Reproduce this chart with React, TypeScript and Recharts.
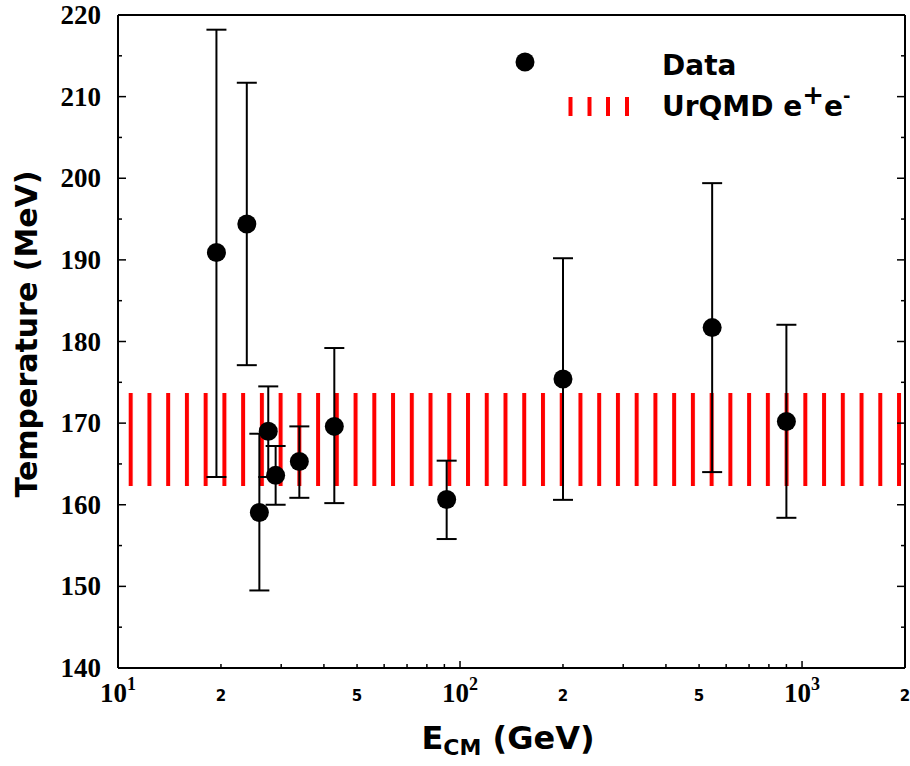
import React from 'react';
import { ScatterChart, Scatter, XAxis, YAxis, ErrorBar, ReferenceArea, Legend } from 'recharts';

// collision energy (GeV) and extracted temperature (MeV) with error bounds
const energies = [19.4, 23.8, 25.9, 27.5, 28.9, 33.9, 42.9, 91.4, 200, 546, 900];
const temperatures = [190.9, 194.4, 159.05, 169.0, 163.6, 165.3, 169.6, 160.65, 175.4, 181.7, 170.2];
const upperBounds = [218.2, 211.7, 168.7, 174.5, 167.2, 169.6, 179.2, 165.4, 190.2, 199.4, 182.05];
const lowerBounds = [163.4, 177.1, 149.5, 163.4, 160.0, 160.85, 160.2, 155.8, 160.6, 164.0, 158.4];

// UrQMD e+e- band
const urqmdLow = 162.3;
const urqmdHigh = 173.7;

const xTicks = [10, 20, 30, 40, 50, 60, 70, 80, 90, 100, 200, 300, 400, 500, 600, 700, 800, 900, 1000, 2000];
const xMajor = [10, 100, 1000];
const xLabels: Record<number, [string, string]> = {
  10: ['10', '1'],
  20: ['2', ''],
  50: ['5', ''],
  100: ['10', '2'],
  200: ['2', ''],
  500: ['5', ''],
  1000: ['10', '3'],
  2000: ['2', ''],
};
const yTicks = [140, 145, 150, 155, 160, 165, 170, 175, 180, 185, 190, 195, 200, 205, 210, 215, 220];
const yLabeled = [140, 150, 160, 170, 180, 190, 200, 210, 220];

const data = energies.map((e, i) => ({
  energy: e,
  temp: temperatures[i],
  err: [temperatures[i] - lowerBounds[i], upperBounds[i] - temperatures[i]],
}));

const SANS = '"DejaVu Sans", sans-serif';
const SERIF = '"Liberation Serif", serif';

const BottomTick = (props: any) => {
  const { x, y, payload } = props;
  const v = payload.value;
  const len = xMajor.includes(v) ? 7 : 4;
  const lab = xLabels[v];
  return (
    <g>
      <line x1={x} x2={x} y1={y} y2={y - len} stroke="#000" strokeWidth={1.5} />
      {lab && lab[1] !== '' && (
        <text x={x} y={y + 34} textAnchor="middle" fontFamily={SERIF} fontWeight="bold" fontSize={27} fill="#000">
          {lab[0]}
          <tspan fontSize={18} dy={-12}>{lab[1]}</tspan>
        </text>
      )}
      {lab && lab[1] === '' && (
        <text x={x} y={y + 33} textAnchor="middle" fontFamily={SANS} fontWeight="bold" fontSize={15} fill="#000">
          {lab[0]}
        </text>
      )}
    </g>
  );
};

const TopTick = (props: any) => {
  const { x, y, payload } = props;
  const len = xMajor.includes(payload.value) ? 7 : 4;
  return <line x1={x} x2={x} y1={y} y2={y + len} stroke="#000" strokeWidth={1.5} />;
};

const LeftTick = (props: any) => {
  const { x, y, payload } = props;
  const v = payload.value;
  const major = yLabeled.includes(v);
  return (
    <g>
      <line x1={x} x2={x + (major ? 8 : 4)} y1={y} y2={y} stroke="#000" strokeWidth={1.5} />
      {major && (
        <text x={x - 17} y={y + 9} textAnchor="end" fontFamily={SERIF} fontWeight="bold" fontSize={27} fill="#000">
          {v}
        </text>
      )}
    </g>
  );
};

const RightTick = (props: any) => {
  const { x, y, payload } = props;
  const len = yLabeled.includes(payload.value) ? 8 : 4;
  return <line x1={x} x2={x - len} y1={y} y2={y} stroke="#000" strokeWidth={1.5} />;
};

const YTitle = () => (
  <text
    x={37}
    y={334}
    transform="rotate(-90, 37, 334)"
    textAnchor="middle"
    fontFamily={SANS}
    fontWeight="bold"
    fontSize={30}
    fill="#000"
  >
    Temperature (MeV)
  </text>
);

const XTitle = () => (
  <text x={508} y={749} textAnchor="middle" fontFamily={SANS} fontWeight="bold" fontSize={32} fill="#000">
    E
    <tspan fontSize={22} dy={6}>CM</tspan>
    <tspan dy={-6}> (GeV)</tspan>
  </text>
);

const LegendBox = () => (
  <svg width={910} height={140} style={{ display: 'block' }}>
    <circle cx={525} cy={62} r={9.5} fill="#000" />
    <text x={662} y={75} fontFamily={SANS} fontWeight="bold" fontSize={28} fill="#000">
      Data
    </text>
    {[570.5, 589.5, 608, 627].map((lx) => (
      <line key={lx} x1={lx} x2={lx} y1={97} y2={116} stroke="#ff0000" strokeWidth={4} />
    ))}
    <text x={662} y={116} fontFamily={SANS} fontWeight="bold" fontSize={28} fill="#000">
      UrQMD e
      <tspan dy={-12} fontSize={26}>+</tspan>
      <tspan dy={12}>e</tspan>
      <tspan dy={-14} fontSize={18}>-</tspan>
    </text>
  </svg>
);

const Dot = (props: any) => <circle cx={props.cx} cy={props.cy} r={9.5} fill="#000" />;

export default function App() {
  return (
    <div style={{ position: 'absolute', left: 0, top: 0, background: '#fff', fontFamily: SANS }}>
      <ScatterChart width={910} height={766} margin={{ top: 0, right: 0, bottom: 0, left: 0 }}>
        <defs>
          <pattern id="urqmdStripes" patternUnits="userSpaceOnUse" x={16.26} y={0} width={18.74} height={766}>
            <rect x={0} y={0} width={4} height={766} fill="#ff0000" />
          </pattern>
        </defs>
        <XAxis
          dataKey="energy"
          type="number"
          scale="log"
          domain={[10, 2000]}
          allowDataOverflow
          ticks={xTicks}
          interval={0}
          tickSize={0}
          tickMargin={0}
          height={98}
          axisLine={{ stroke: '#000', strokeWidth: 2 }}
          tickLine={false}
          tick={<BottomTick />}
          label={<XTitle />}
        />
        <XAxis
          xAxisId="top"
          orientation="top"
          type="number"
          scale="log"
          domain={[10, 2000]}
          allowDataOverflow
          ticks={xTicks}
          interval={0}
          tickSize={0}
          tickMargin={0}
          height={15}
          axisLine={{ stroke: '#000', strokeWidth: 2 }}
          tickLine={false}
          tick={<TopTick />}
        />
        <YAxis
          dataKey="temp"
          type="number"
          domain={[140, 220]}
          allowDataOverflow
          ticks={yTicks}
          interval={0}
          tickSize={0}
          tickMargin={0}
          width={118}
          axisLine={{ stroke: '#000', strokeWidth: 2 }}
          tickLine={false}
          tick={<LeftTick />}
          label={<YTitle />}
        />
        <YAxis
          yAxisId="right"
          orientation="right"
          type="number"
          domain={[140, 220]}
          allowDataOverflow
          ticks={yTicks}
          interval={0}
          tickSize={0}
          tickMargin={0}
          width={5}
          axisLine={{ stroke: '#000', strokeWidth: 2 }}
          tickLine={false}
          tick={<RightTick />}
        />
        <ReferenceArea y1={urqmdLow} y2={urqmdHigh} fill="url(#urqmdStripes)" fillOpacity={1} stroke="none" />
        <Legend
          layout="horizontal"
          verticalAlign="middle"
          align="center"
          content={() => <LegendBox />}
          wrapperStyle={{ left: 0, top: 0, width: 910, height: 140 }}
        />
        <Scatter data={data} dataKey="temp" shape={<Dot />} isAnimationActive={false}>
          <ErrorBar dataKey="err" direction="y" width={10} stroke="#000" strokeWidth={2} />
        </Scatter>
      </ScatterChart>
    </div>
  );
}
